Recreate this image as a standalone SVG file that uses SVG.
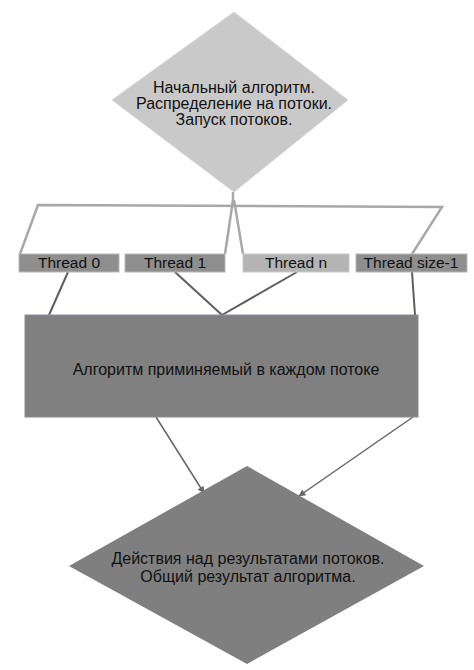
<svg xmlns="http://www.w3.org/2000/svg" width="474" height="670" viewBox="0 0 474 670">
<style>
text{font-family:"Liberation Sans",Arial,sans-serif;font-size:16px;fill:#111;text-anchor:middle}
.lbl{font-size:15.5px}
.thr{fill:#8e8e8e;stroke:#b8b8b8;stroke-width:1}
.light{stroke:#a8a8a8;stroke-width:2.5;fill:none}
.dark{stroke:#5e5e5e;stroke-width:2;fill:none}
.arr{stroke:#666;stroke-width:1.5;fill:none}
</style>
<defs>
<marker id="ah" viewBox="0 0 10 10" refX="9" refY="5" markerWidth="7" markerHeight="7" orient="auto" markerUnits="userSpaceOnUse">
<path d="M0,0 L10,5 L0,10 z" fill="#666"/>
</marker>
</defs>
<g id="connectors">
<polyline class="light" points="20,254 38,205 442,207 412,254"/>
<line class="light" x1="233" y1="192" x2="233" y2="206"/>
<line class="light" x1="233" y1="200" x2="225" y2="254"/>
<line class="light" x1="234" y1="200" x2="243" y2="254"/>
<line class="dark" x1="68" y1="272" x2="49" y2="315"/>
<line class="dark" x1="175" y1="272" x2="222" y2="315"/>
<line class="dark" x1="297" y1="272" x2="222" y2="315"/>
<line class="dark" x1="412" y1="272" x2="415" y2="315"/>
<line class="arr" x1="156" y1="417" x2="204" y2="493" marker-end="url(#ah)"/>
<line class="arr" x1="413" y1="417" x2="299" y2="496" marker-end="url(#ah)"/>
</g>
<g id="start">
<polygon points="234,12 348,100 234,192 112,100" fill="#c9c9c9" stroke="#d8d8d8"/>
<text x="234" y="93">Начальный алгоритм.</text>
<text x="234" y="109">Распределение на потоки.</text>
<text x="234" y="125">Запуск потоков.</text>
</g>
<g id="thread0">
<rect class="thr" x="19" y="254" width="100" height="18"/>
<text class="lbl" x="69" y="268">Thread 0</text>
</g>
<g id="thread1">
<rect class="thr" x="125" y="254" width="100" height="18"/>
<text class="lbl" x="175" y="268">Thread 1</text>
</g>
<g id="threadn">
<rect x="243" y="254" width="106" height="18" fill="#b4b4b4" stroke="#c8c8c8"/>
<text class="lbl" x="296" y="268">Thread n</text>
</g>
<g id="threadlast">
<rect class="thr" x="356" y="254" width="111" height="18"/>
<text class="lbl" x="411" y="268">Thread size-1</text>
</g>
<g id="algorithm">
<rect x="25" y="315" width="393" height="102" fill="#808080" stroke="#8a8a9a"/>
<text x="226" y="375">Алгоритм приминяемый в каждом потоке</text>
</g>
<g id="result">
<polygon points="247,466 424,566 247,664 69,566" fill="#7f7f7f"/>
<text x="248" y="564">Действия над результатами потоков.</text>
<text x="248" y="582">Общий результат алгоритма.</text>
</g>
</svg>
